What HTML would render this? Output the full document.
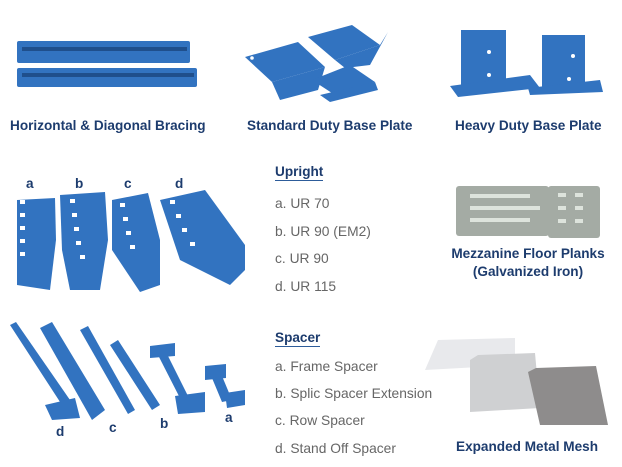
<!DOCTYPE html>
<html><head><style>
body{margin:0;width:622px;height:467px;background:#fff;overflow:hidden;position:relative;font-family:"Liberation Sans",sans-serif}
.t{position:absolute;font-weight:bold;color:#1d3c6e;font-size:13.6px;white-space:nowrap}
.g{position:absolute;color:#666;font-size:13.8px;white-space:nowrap}
.h{position:absolute;font-weight:bold;color:#1d3c6e;font-size:13.6px;border-bottom:1.5px solid #2d5c9a;padding-bottom:1px}
svg{position:absolute;left:0;top:0}
</style></head><body>
<svg width="622" height="467" viewBox="0 0 622 467">
<g fill="#3273c0">
<rect x="17" y="41" width="173" height="22" rx="2"/>
<rect x="17" y="68" width="180" height="19" rx="2"/>
<rect x="22" y="47" width="165" height="4" fill="#1f4f8c"/>
<rect x="22" y="73" width="172" height="4" fill="#1f4f8c"/>
<polygon points="245,57 298,42 325,67 272,82"/>
<polygon points="272,82 325,67 318,90 280,100"/>
<polygon points="308,37 352,25 380,45 335,60"/>
<polygon points="335,60 380,45 388,32 370,65 345,68"/>
<polygon points="312,80 350,65 375,82 335,95"/>
<polygon points="320,95 375,82 378,90 330,102"/>
<rect x="461" y="30" width="45" height="60"/>
<polygon points="450,86 530,75 540,88 458,97"/>
<rect x="542" y="35" width="43" height="52"/>
<polygon points="528,88 600,80 603,92 530,95"/>
<polygon points="17,200 55,198 56,240 50,290 17,285"/>
<polygon points="60,195 105,192 108,240 100,290 70,290 62,250"/>
<polygon points="112,200 148,193 160,240 160,285 140,292 112,250"/>
<polygon points="160,200 205,190 245,245 245,270 230,285 180,260"/>
<polygon points="10,325 16,322 70,400 62,405"/>
<polygon points="45,405 75,398 80,418 52,420"/>
<polygon points="40,328 52,322 105,410 92,420"/>
<polygon points="80,330 88,326 135,410 128,414"/>
<polygon points="110,345 118,340 160,405 152,410"/>
<polygon points="150,346 175,343 175,356 150,358"/>
<polygon points="158,355 166,352 190,400 182,402"/>
<polygon points="175,396 205,392 205,412 178,414"/>
<polygon points="205,366 226,364 226,378 205,380"/>
<polygon points="212,378 222,376 232,400 222,402"/>
<polygon points="225,393 245,390 245,405 227,408"/>
</g>
<g fill="#fff">
<circle cx="312" cy="45" r="1.8"/><circle cx="252" cy="58" r="1.8"/><circle cx="282" cy="38" r="1.8"/>
<circle cx="489" cy="52" r="2"/><circle cx="489" cy="75" r="2"/><circle cx="573" cy="56" r="2"/><circle cx="569" cy="79" r="2"/>
<rect x="20" y="200" width="5" height="4"/><rect x="20" y="213" width="5" height="4"/><rect x="20" y="226" width="5" height="4"/><rect x="20" y="239" width="5" height="4"/><rect x="20" y="252" width="5" height="4"/>
<rect x="70" y="199" width="5" height="4"/><rect x="72" y="213" width="5" height="4"/><rect x="74" y="227" width="5" height="4"/><rect x="76" y="241" width="5" height="4"/><rect x="80" y="255" width="5" height="4"/>
<rect x="120" y="203" width="5" height="4"/><rect x="123" y="217" width="5" height="4"/><rect x="126" y="231" width="5" height="4"/><rect x="130" y="245" width="5" height="4"/>
<rect x="170" y="200" width="5" height="4"/><rect x="176" y="214" width="5" height="4"/><rect x="182" y="228" width="5" height="4"/><rect x="190" y="242" width="5" height="4"/>
</g>
<g fill="#a4aba4">
<rect x="456" y="186" width="93" height="50" rx="3"/>
<rect x="548" y="186" width="52" height="52" rx="3"/>
</g>
<g fill="#dde3dc">
<rect x="470" y="194" width="60" height="4"/><rect x="470" y="206" width="70" height="4"/><rect x="470" y="218" width="60" height="4"/>
<rect x="558" y="193" width="8" height="4"/><rect x="575" y="193" width="8" height="4"/><rect x="558" y="206" width="8" height="4"/><rect x="575" y="206" width="8" height="4"/><rect x="558" y="219" width="8" height="4"/><rect x="575" y="219" width="8" height="4"/>
</g>
<polygon points="425,370 438,340 515,338 515,365" fill="#e8e9ec"/>
<polygon points="470,360 478,355 535,353 540,408 470,412" fill="#cfd0d2"/>
<polygon points="528,372 536,368 596,366 608,425 540,425" fill="#8e8c8c"/>
</svg>
<div class="t" style="left:10px;top:118px">Horizontal &amp; Diagonal Bracing</div>
<div class="t" style="left:247px;top:118px">Standard Duty Base Plate</div>
<div class="t" style="left:455px;top:118px">Heavy Duty Base Plate</div>
<div class="t" style="left:26px;top:176px">a</div>
<div class="t" style="left:75px;top:176px">b</div>
<div class="t" style="left:124px;top:176px">c</div>
<div class="t" style="left:175px;top:176px">d</div>
<div class="h" style="left:275px;top:164px">Upright</div>
<div class="g" style="left:275px;top:196px">a. UR 70</div>
<div class="g" style="left:275px;top:224px">b. UR 90 (EM2)</div>
<div class="g" style="left:275px;top:251px">c. UR 90</div>
<div class="g" style="left:275px;top:279px">d. UR 115</div>
<div class="t" style="left:440px;top:245px;width:176px;text-align:center;line-height:18px">Mezzanine Floor Planks<br>(Galvanized Iron)</div>
<div class="t" style="left:56px;top:424px">d</div>
<div class="t" style="left:109px;top:420px">c</div>
<div class="t" style="left:160px;top:416px">b</div>
<div class="t" style="left:225px;top:410px">a</div>
<div class="h" style="left:275px;top:330px">Spacer</div>
<div class="g" style="left:275px;top:359px">a. Frame Spacer</div>
<div class="g" style="left:275px;top:386px">b. Splic Spacer Extension</div>
<div class="g" style="left:275px;top:413px">c. Row Spacer</div>
<div class="g" style="left:275px;top:441px">d. Stand Off Spacer</div>
<div class="t" style="left:456px;top:439px">Expanded Metal Mesh</div>
</body></html>
